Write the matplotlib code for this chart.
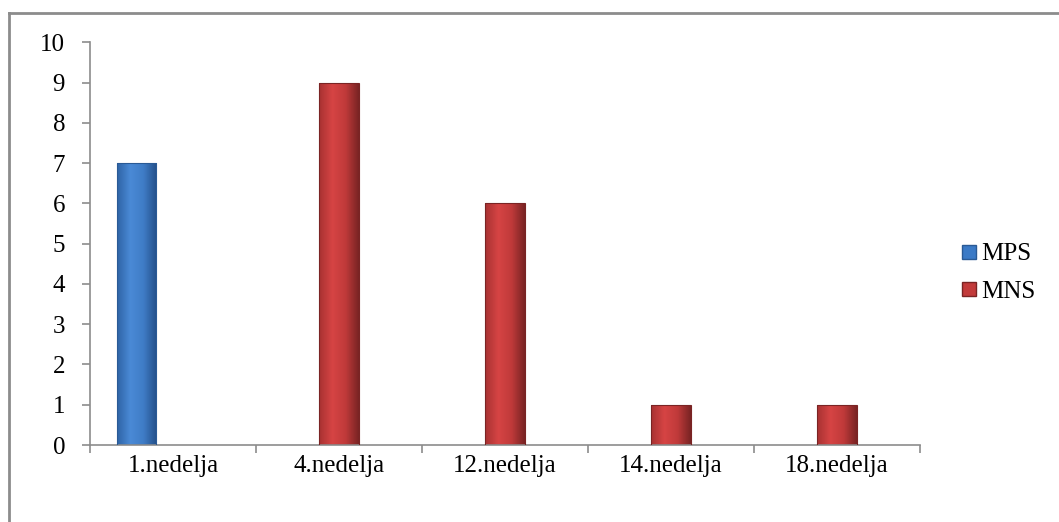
import numpy as np
import matplotlib.pyplot as plt
from matplotlib.lines import Line2D
from matplotlib.colors import LinearSegmentedColormap

# Data
categories = ["1.nedelja", "4.nedelja", "12.nedelja", "14.nedelja", "18.nedelja"]
mps = [7, 0, 0, 0, 0]
mns = [0, 9, 6, 1, 1]

plt.rcParams["font.family"] = "Liberation Serif"

fig = plt.figure(figsize=(10.59, 5.22), dpi=100)
W, H = 1059, 522
ax = fig.add_axes([90 / W, (H - 445) / H, 830 / W, (445 - 42.3) / H])

x = np.arange(len(categories))
width = 0.235
blue = "#3b7ac6"
red = "#c23a3a"
blue_cmap = LinearSegmentedColormap.from_list("b", ["#2f64a6", "#4a8ad6", "#3f7cc6", "#24508a"])
red_cmap = LinearSegmentedColormap.from_list("r", ["#a83232", "#d64444", "#c03a3a", "#7a2424"])

grad = np.linspace(0, 1, 64).reshape(1, -1)


def shaded_bar(xc, v, cmap, edge):
    bar = ax.bar(xc, v, width, color="none", edgecolor=edge, linewidth=0.8, zorder=3)[0]
    im = ax.imshow(grad, cmap=cmap, aspect="auto", zorder=2,
                   extent=[xc - width / 2, xc + width / 2, 0, v])
    im.set_clip_path(bar)


# MPS sits left of the category centre, MNS in the middle
for xi, v in zip(x - 0.22, mps):
    if v > 0:
        shaded_bar(xi, v, blue_cmap, "#2a5a95")
for xi, v in zip(x, mns):
    if v > 0:
        shaded_bar(xi, v, red_cmap, "#7a2424")

ax.set_xlim(-0.5, len(categories) - 0.5)
ax.set_ylim(0, 10)
ax.set_yticks(range(0, 11))
ax.set_xticks(x)
ax.set_xticklabels(categories)
ax.set_xticks(np.arange(-0.5, len(categories)), minor=True)

for s in ["top", "right"]:
    ax.spines[s].set_visible(False)
for s in ["left", "bottom"]:
    ax.spines[s].set_color("#8c8c8c")
    ax.spines[s].set_linewidth(1.2)

ax.tick_params(axis="y", length=6, color="#8c8c8c", width=1.2, labelsize=18, pad=12)
ax.tick_params(axis="x", which="major", length=0, labelsize=18, pad=7)
ax.tick_params(axis="x", which="minor", length=6, color="#8c8c8c", width=1.2)

# legend
handles = [
    Line2D([], [], marker="s", linestyle="", markersize=10, markerfacecolor=blue, markeredgecolor="#2a5a95"),
    Line2D([], [], marker="s", linestyle="", markersize=10, markerfacecolor=red, markeredgecolor="#7a2424"),
]
fig.legend(handles, ["MPS", "MNS"], loc="center left", bbox_to_anchor=(940 / W, (H - 273) / H),
           frameon=False, fontsize=18, handlelength=0.55, handletextpad=0.2, labelspacing=0.6)

# outer chart border (top and left only visible)
fig.add_artist(Line2D([9 / W, 1], [1 - 13 / H, 1 - 13 / H], color="#8c8c8c", linewidth=2))
fig.add_artist(Line2D([9 / W, 9 / W], [0, 1 - 13 / H], color="#8c8c8c", linewidth=2))

fig.savefig("out.png", dpi=100)
